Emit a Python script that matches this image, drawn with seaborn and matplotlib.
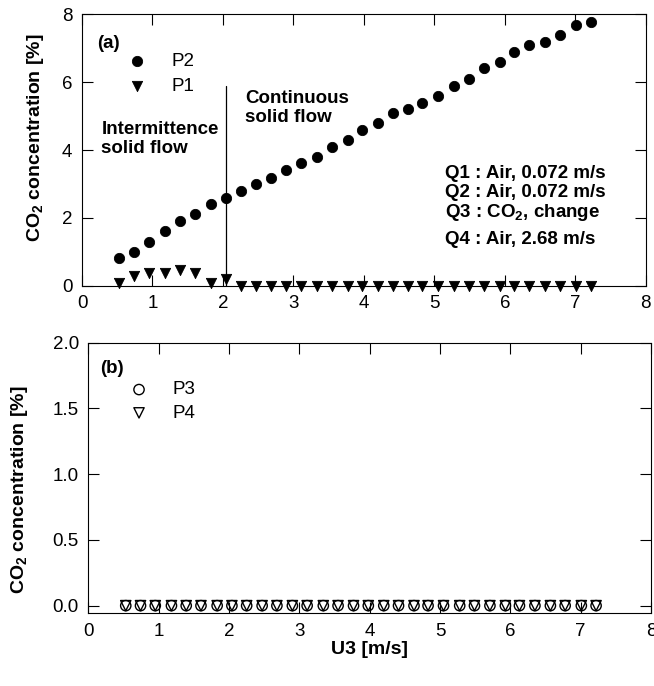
import pandas as pd
import matplotlib.pyplot as plt
import seaborn as sns

# Data
u3 = [0.53, 0.74, 0.95, 1.18, 1.39, 1.60, 1.83, 2.04, 2.25, 2.47, 2.68, 2.90,
      3.11, 3.34, 3.55, 3.77, 3.98, 4.20, 4.41, 4.63, 4.83, 5.05, 5.28, 5.49,
      5.71, 5.93, 6.13, 6.35, 6.57, 6.78, 7.01, 7.22]
p2 = [0.82, 1.00, 1.30, 1.61, 1.92, 2.10, 2.41, 2.60, 2.80, 3.00, 3.19, 3.40,
      3.61, 3.80, 4.10, 4.29, 4.60, 4.80, 5.08, 5.20, 5.39, 5.60, 5.89, 6.09,
      6.41, 6.60, 6.90, 7.09, 7.19, 7.39, 7.70, 7.78]
p1 = [0.08, 0.30, 0.38, 0.37, 0.47, 0.38, 0.09, 0.20] + [0.0] * 24
p3 = [0.0] * 32
p4 = [0.0] * 32
conditions = ['Q1 : Air, 0.072 m/s', 'Q2 : Air, 0.072 m/s',
              r'Q3 : CO$_\mathbf{2}$, change', 'Q4 : Air, 2.68 m/s']
condition_y = [3.31, 2.76, 2.17, 1.35]

df_top = pd.DataFrame({'U3': u3, 'P2': p2, 'P1': p1})
df_bot = pd.DataFrame({'U3': u3, 'P3': p3, 'P4': p4})

sns.set_style('ticks')
plt.rcParams['font.family'] = ['Liberation Sans', 'DejaVu Sans']
plt.rcParams['mathtext.fontset'] = 'custom'
plt.rcParams['mathtext.rm'] = 'Liberation Sans'
plt.rcParams['mathtext.bf'] = 'Liberation Sans:bold'
plt.rcParams['mathtext.it'] = 'Liberation Sans:italic'
plt.rcParams['text.color'] = 'black'
plt.rcParams['axes.labelcolor'] = 'black'
plt.rcParams['xtick.color'] = 'black'
plt.rcParams['ytick.color'] = 'black'
plt.rcParams['axes.edgecolor'] = 'black'

fs = 13.5
fig = plt.figure(figsize=(6.54, 6.86), dpi=100)
ax1 = fig.add_axes([0.1254, 0.5835, 0.862, 0.3956])
ax2 = fig.add_axes([0.1353, 0.106, 0.860, 0.3945])

# Panel (a)
sns.scatterplot(data=df_top, x='U3', y='P2', ax=ax1, marker='o', color='black',
                edgecolor='black', s=55, label='P2', clip_on=False, zorder=3)
sns.scatterplot(data=df_top, x='U3', y='P1', ax=ax1, marker='v', color='black',
                edgecolor='black', s=55, label='P1', clip_on=False, zorder=3)
ax1.plot([2.04, 2.04], [5.88, 0.0], color='black', lw=0.9)
ax1.set_xlim(0, 8)
ax1.set_ylim(0, 8)
ax1.set_xticks(range(0, 9))
ax1.set_yticks(range(0, 9, 2))
ax1.set_xlabel('')
ax1.set_ylabel(r'CO$_\mathbf{2}$ concentration [%]', fontsize=14, fontweight='bold')
ax1.yaxis.set_label_coords(-0.064, 0.544)
ax1.text(0.21, 7.15, '(a)', fontsize=fs, fontweight='bold', va='center')
ax1.text(0.275, 4.32, 'Intermittence\nsolid flow', fontsize=fs, fontweight='bold',
         va='center', linespacing=1.15)
ax1.text(2.31, 5.24, 'Continuous\nsolid flow', fontsize=fs, fontweight='bold',
         va='center', linespacing=1.15)
for txt, yy in zip(conditions, condition_y):
    ax1.text(5.15, yy, txt, fontsize=fs, fontweight='bold', va='center')
ax1.legend(loc='upper left', bbox_to_anchor=(0.065, 0.857), frameon=False,
           borderpad=0, borderaxespad=0, handletextpad=0.8, labelspacing=0.42,
           fontsize=fs, scatterpoints=1)

# Panel (b)
sns.scatterplot(data=df_bot, x='U3', y='P3', ax=ax2, marker='o', facecolor='none',
                edgecolor='black', linewidth=1, s=55, label='P3', clip_on=False, zorder=3)
sns.scatterplot(data=df_bot, x='U3', y='P4', ax=ax2, marker='v', facecolor='none',
                edgecolor='black', linewidth=1, s=55, label='P4', clip_on=False, zorder=4)
ax2.set_xlim(0, 8)
ax2.set_ylim(-0.058, 2.0)
ax2.set_xticks(range(0, 9))
ax2.set_yticks([0.0, 0.5, 1.0, 1.5, 2.0])
ax2.set_yticklabels(['0.0', '0.5', '1.0', '1.5', '2.0'])
ax2.set_xlabel('U3 [m/s]', fontsize=14, fontweight='bold')
ax2.xaxis.set_label_coords(0.5, -0.102)
ax2.set_ylabel(r'CO$_\mathbf{2}$ concentration [%]', fontsize=14, fontweight='bold')
ax2.yaxis.set_label_coords(-0.104, 0.456)
ax2.text(0.16, 1.80, '(b)', fontsize=fs, fontweight='bold', va='center')
ax2.legend(loc='upper left', bbox_to_anchor=(0.0565, 0.857), frameon=False,
           borderpad=0, borderaxespad=0, handletextpad=0.8, labelspacing=0.33,
           fontsize=fs, scatterpoints=1)

for ax in (ax1, ax2):
    ax.tick_params(direction='in', top=True, right=True, length=8, width=0.8,
                   labelsize=fs, pad=7, color='black', labelcolor='black')
    for sp in ax.spines.values():
        sp.set_linewidth(0.8)
        sp.set_color('black')
        sp.set_visible(True)

fig.savefig('out.png', dpi=100)
